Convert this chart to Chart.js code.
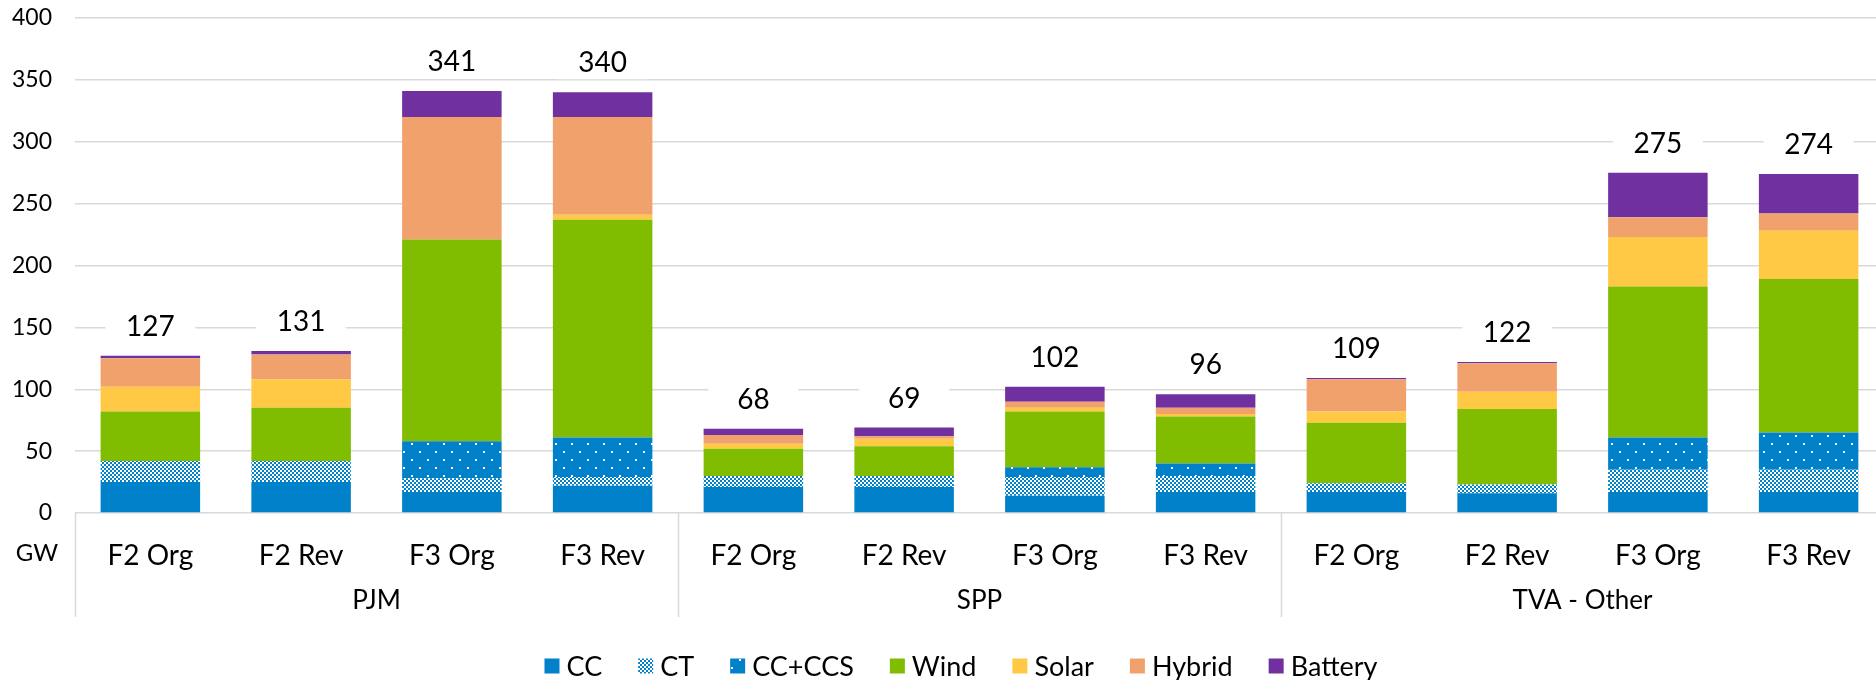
<!DOCTYPE html>
<html>
<head>
<meta charset="utf-8">
<script src="https://cdn.jsdelivr.net/npm/chart.js@4.4.1/dist/chart.umd.min.js"></script>
<style>
  html, body { margin: 0; padding: 0; overflow: hidden; background: #fff; }
  canvas { display: block; }
</style>
</head>
<body>
<canvas id="capacityChart" width="1884" height="680"></canvas>
<script>
// scenario labels repeat under each region
const scenarios = ["F2 Org", "F2 Rev", "F3 Org", "F3 Rev"];
const regions = ["PJM", "SPP", "TVA - Other"];
const categories = regions.flatMap(() => scenarios);

// GW by technology, one value per category (PJM x4, SPP x4, TVA - Other x4)
const ccValues      = [25, 25,  17,  22, 21, 21, 14, 17, 17, 16,  17,  17];
const ctValues      = [17, 17,  11,   7,  9,  9, 15, 13,  7,  7,  18,  18];
const ccsValues     = [ 0,  0,  30,  32,  0,  0,  8, 10,  0,  0,  26,  30];
const windValues    = [40, 43, 163, 176, 22, 24, 45, 38, 49, 61, 122, 124];
const solarValues   = [20, 23,   0,   4,  4,  6,  3,  2,  9, 14,  40,  39];
const hybridValues  = [23, 20,  99,  79,  7,  2,  5,  5, 26, 23,  16,  14];
const batteryValues = [ 2,  3,  21,  20,  5,  7, 12, 11,  1,  1,  36,  32];

const yTicks = [0, 50, 100, 150, 200, 250, 300, 350, 400];

const BLUE = "#0081c9";

// small checkerboard for CT
function checkerPattern() {
  const c = document.createElement("canvas");
  c.width = 4; c.height = 4;
  const g = c.getContext("2d");
  g.fillStyle = "#fff";
  g.fillRect(0, 0, 4, 4);
  g.fillStyle = BLUE;
  g.fillRect(0, 0, 2, 2);
  g.fillRect(2, 2, 2, 2);
  return g.createPattern(c, "repeat");
}

// white dots on blue for CC+CCS
function dotPattern() {
  const c = document.createElement("canvas");
  c.width = 16; c.height = 16;
  const g = c.getContext("2d");
  g.fillStyle = BLUE;
  g.fillRect(0, 0, 16, 16);
  g.fillStyle = "#fff";
  g.fillRect(3, 3, 2, 2);
  g.fillRect(11, 11, 2, 2);
  return g.createPattern(c, "repeat");
}

const overlay = {
  id: "overlay",
  afterDatasetsDraw(chart) {
    const { ctx, scales: { x, y } } = chart;
    ctx.save();
    ctx.font = "28px Lato";
    ctx.textAlign = "center";
    ctx.textBaseline = "middle";
    categories.forEach((c, i) => {
      const total = chart.data.datasets.reduce((s, d) => s + d.data[i], 0);
      const px = x.getPixelForValue(i);
      const py = y.getPixelForValue(total) - 29;
      ctx.fillStyle = "#fff";
      ctx.fillRect(px - 45, py - 16, 90, 32);
      ctx.fillStyle = "#000";
      ctx.fillText(String(total), px, py);
    });
    ctx.restore();
  },
  afterDraw(chart) {
    const { ctx, scales: { x, y } } = chart;
    const base = y.getPixelForValue(0);
    ctx.save();

    // group separators
    ctx.strokeStyle = "#d9d9d9";
    ctx.lineWidth = 1.5;
    [-0.5, 3.5, 7.5, 11.5].forEach(v => {
      const px = Math.round(x.getPixelForValue(v)) + 0.5;
      ctx.beginPath();
      ctx.moveTo(px, base);
      ctx.lineTo(px, 617);
      ctx.stroke();
    });

    // region labels
    ctx.fillStyle = "#000";
    ctx.font = "26px Lato";
    ctx.textAlign = "center";
    ctx.textBaseline = "middle";
    regions.forEach((r, k) => {
      ctx.fillText(r, x.getPixelForValue(k * 4 + 1.5), 601);
    });

    // unit label
    ctx.font = "24px Lato";
    ctx.fillText("GW", 37, 553);

    // legend
    ctx.font = "27px Lato";
    const box = 15, gap = 7, spacing = 36;
    const items = chart.data.datasets;
    const widths = items.map(d => ctx.measureText(d.label).width);
    const totalW = widths.reduce((s, w) => s + box + gap + w, 0) + spacing * (items.length - 1);
    let cx = 961 - totalW / 2;
    const cy = 666;
    ctx.textAlign = "left";
    items.forEach((d, k) => {
      ctx.fillStyle = d.backgroundColor;
      ctx.fillRect(cx, cy - box / 2, box, box);
      ctx.fillStyle = "#000";
      ctx.fillText(d.label, cx + box + gap, cy + 1);
      cx += box + gap + widths[k] + spacing;
    });
    ctx.restore();
  }
};

const ctx = document.getElementById("capacityChart").getContext("2d");

const capacityChart = new Chart(ctx, {
  type: "bar",
  data: {
    labels: categories,
    datasets: [
      { label: "CC", data: ccValues, backgroundColor: BLUE },
      { label: "CT", data: ctValues, backgroundColor: checkerPattern() },
      { label: "CC+CCS", data: ccsValues, backgroundColor: dotPattern() },
      { label: "Wind", data: windValues, backgroundColor: "#80bc00" },
      { label: "Solar", data: solarValues, backgroundColor: "#ffc845" },
      { label: "Hybrid", data: hybridValues, backgroundColor: "#f0a16c" },
      { label: "Battery", data: batteryValues, backgroundColor: "#7030a0" }
    ]
  },
  options: {
    responsive: false,
    animation: false,
    devicePixelRatio: 1,
    datasets: {
      bar: { categoryPercentage: 1, barPercentage: 0.66, borderWidth: 0 }
    },
    layout: { padding: 0 },
    plugins: {
      legend: { display: false },
      tooltip: { enabled: false }
    },
    scales: {
      x: {
        stacked: true,
        grid: { display: false },
        border: { display: false },
        ticks: { color: "#000", font: { family: "Lato", size: 28 }, padding: 18, maxRotation: 0 },
        afterFit(scale) { scale.height = 167; }
      },
      y: {
        stacked: true,
        min: yTicks[0],
        max: yTicks[yTicks.length - 1],
        afterBuildTicks(scale) { scale.ticks = yTicks.map(v => ({ value: v })); },
        grid: { color: "#d9d9d9", lineWidth: 1.5, drawTicks: false },
        border: { display: false },
        ticks: { color: "#000", font: { family: "Lato", size: 23 }, padding: 23 },
        afterFit(scale) {
          scale.width = 75;
          scale.paddingTop = 18;
          scale.paddingBottom = 0;
        }
      }
    }
  },
  plugins: [overlay]
});
</script>
</body>
</html>
